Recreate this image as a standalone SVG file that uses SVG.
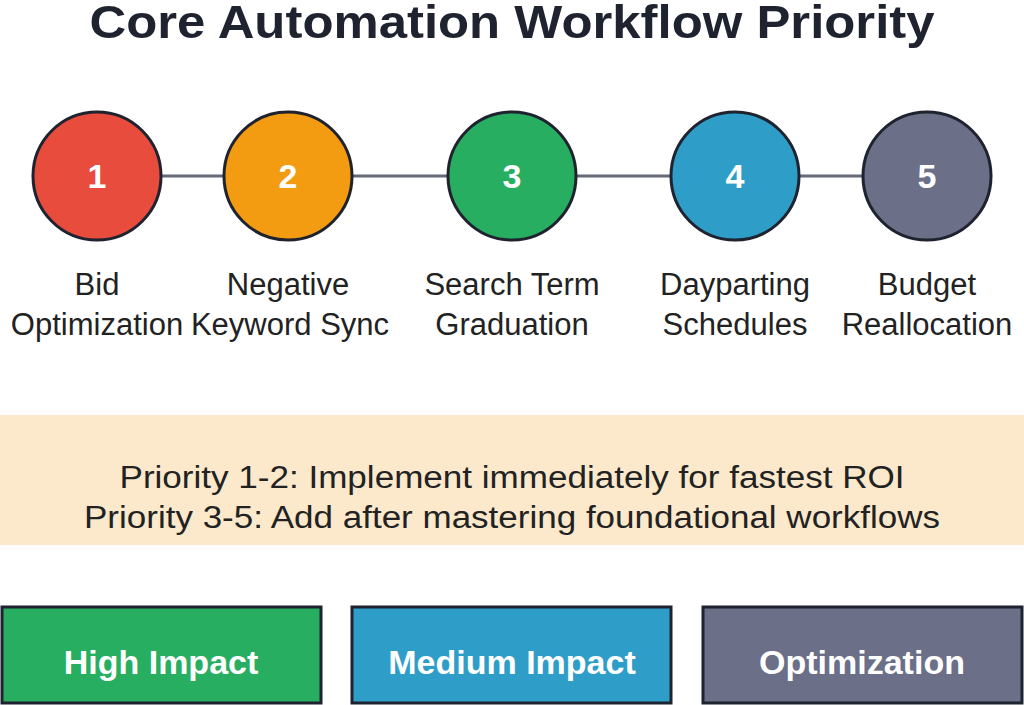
<svg xmlns="http://www.w3.org/2000/svg" width="1024" height="705" viewBox="0 0 1024 705">
<style>
.t{font-family:"Liberation Sans",Arial,sans-serif;}
.c{stroke:#1f2330;stroke-width:3}
.n{font-family:"Liberation Sans",Arial,sans-serif;font-weight:bold;font-size:34px;fill:#fff;text-anchor:middle}
.l{font-family:"Liberation Sans",Arial,sans-serif;font-size:31px;fill:#222;text-anchor:middle}
.b{stroke:#1f2330;stroke-width:3}
.bt{font-family:"Liberation Sans",Arial,sans-serif;font-weight:bold;font-size:34px;fill:#fff;text-anchor:middle}
</style>
<rect width="1024" height="705" fill="#fff"/>
<text class="t" x="512" y="38" font-size="47" font-weight="bold" fill="#1f2330" text-anchor="middle" textLength="845" lengthAdjust="spacingAndGlyphs">Core Automation Workflow Priority</text>
<g id="connectors" stroke="#666a7a" stroke-width="3">
<line x1="161" y1="176" x2="224" y2="176"/>
<line x1="352" y1="176" x2="448" y2="176"/>
<line x1="576" y1="176" x2="671" y2="176"/>
<line x1="799" y1="176" x2="863" y2="176"/>
</g>
<g id="node1"><circle class="c" cx="97" cy="176" r="64" fill="#e74c3c"/><text class="n" x="97" y="188">1</text><text class="l" x="97" y="295">Bid</text><text class="l" x="97" y="335">Optimization</text></g>
<g id="node2"><circle class="c" cx="288" cy="176" r="64" fill="#f39c12"/><text class="n" x="288" y="188">2</text><text class="l" x="288" y="295">Negative</text><text class="l" x="290" y="335">Keyword Sync</text></g>
<g id="node3"><circle class="c" cx="512" cy="176" r="64" fill="#27ae60"/><text class="n" x="512" y="188">3</text><text class="l" x="512" y="295">Search Term</text><text class="l" x="512" y="335">Graduation</text></g>
<g id="node4"><circle class="c" cx="735" cy="176" r="64" fill="#2e9ec9"/><text class="n" x="735" y="188">4</text><text class="l" x="735" y="295">Dayparting</text><text class="l" x="735" y="335">Schedules</text></g>
<g id="node5"><circle class="c" cx="927" cy="176" r="64" fill="#6b6f87"/><text class="n" x="927" y="188">5</text><text class="l" x="927" y="295">Budget</text><text class="l" x="927" y="335">Reallocation</text></g>
<g id="note"><rect x="0" y="415" width="1024" height="130" fill="#fce9cc"/>
<text class="l" x="512" y="488" font-size="32" textLength="785" lengthAdjust="spacingAndGlyphs">Priority 1-2: Implement immediately for fastest ROI</text>
<text class="l" x="512" y="528" font-size="32" textLength="856" lengthAdjust="spacingAndGlyphs">Priority 3-5: Add after mastering foundational workflows</text></g>
<g id="high"><rect class="b" x="2" y="607" width="319" height="96" fill="#27ae60"/><text class="bt" x="161" y="674">High Impact</text></g>
<g id="medium"><rect class="b" x="352" y="607" width="319" height="96" fill="#2e9ec9"/><text class="bt" x="512" y="674">Medium Impact</text></g>
<g id="opt"><rect class="b" x="703" y="607" width="319" height="96" fill="#6b6f87"/><text class="bt" x="862" y="674">Optimization</text></g>
</svg>
